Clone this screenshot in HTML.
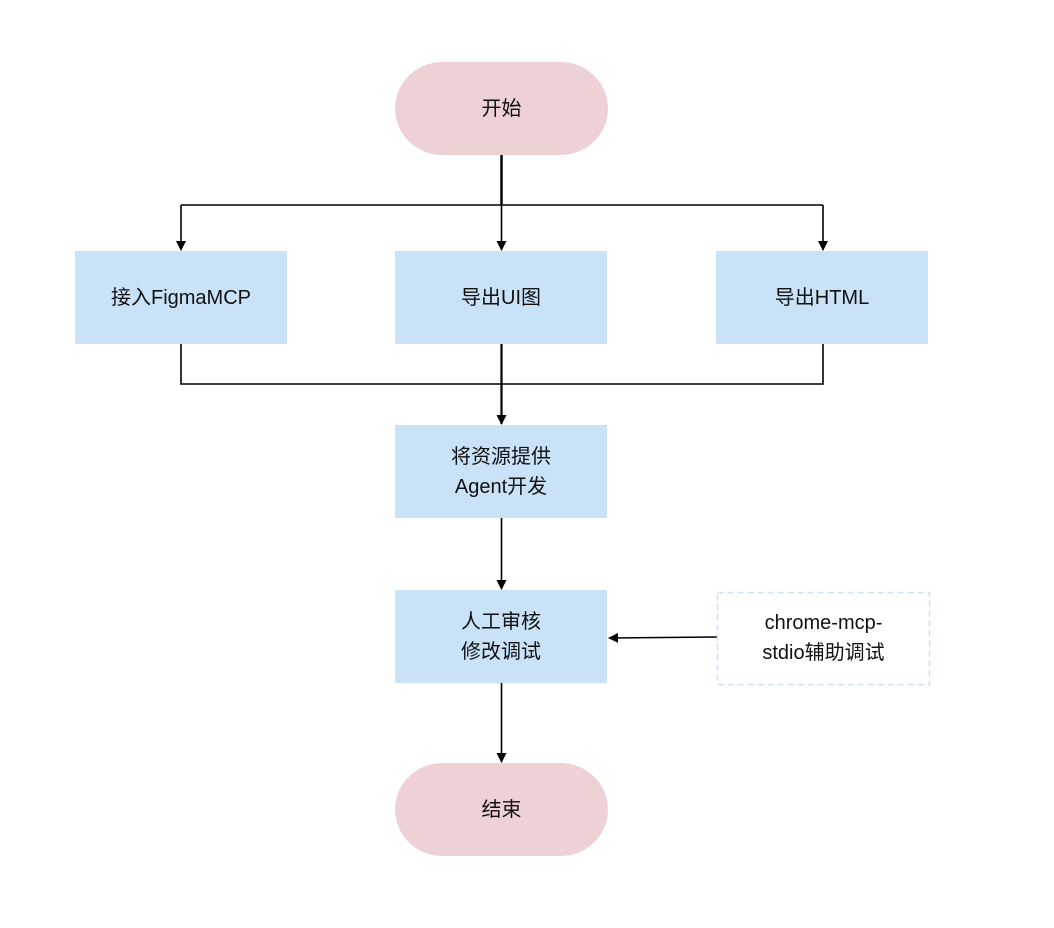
<!DOCTYPE html>
<html><head><meta charset="utf-8"><style>
body{margin:0;width:1054px;height:928px;background:#fff;position:relative;overflow:hidden;font-family:"Liberation Sans","Noto Sans CJK SC",sans-serif;}
.n{position:absolute;display:flex;align-items:center;justify-content:center;text-align:center;font-size:20px;line-height:30px;color:#111;box-sizing:border-box;}
.p{background:#edd1d5;border-radius:48px/47px;}
.b{background:#c9e2f8;}
svg{position:absolute;left:0;top:0;}
</style></head><body>
<svg width="1054" height="928">
<defs><marker id="a" markerWidth="10" markerHeight="10" refX="9" refY="5" orient="auto" markerUnits="userSpaceOnUse"><path d="M0,0 L10,5 L0,10 Z" fill="#000"/></marker></defs>
<g stroke="#000" stroke-width="1.6" fill="none">
<line x1="501.5" y1="155" x2="501.5" y2="205" stroke-width="2.5"/>
<line x1="181" y1="205" x2="823" y2="205"/>
<line x1="181" y1="205" x2="181" y2="250" marker-end="url(#a)"/>
<line x1="501.5" y1="205" x2="501.5" y2="250" marker-end="url(#a)"/>
<line x1="823" y1="205" x2="823" y2="250" marker-end="url(#a)"/>
<polyline points="181,344 181,384 823,384 823,344"/>
<line x1="501.5" y1="344" x2="501.5" y2="424" stroke-width="2.2" marker-end="url(#a)"/>
<line x1="501.5" y1="518" x2="501.5" y2="589" marker-end="url(#a)"/>
<line x1="501.5" y1="683" x2="501.5" y2="762" marker-end="url(#a)"/>
<line x1="717" y1="637" x2="609" y2="638" marker-end="url(#a)"/>
</g>
<rect x="717.5" y="592.5" width="212" height="92" fill="none" stroke="#c9e2f8" stroke-width="1.5" stroke-dasharray="6,4"/>
</svg>
<div class="n p" style="left:395px;top:62px;width:213px;height:93px">开始</div>
<div class="n b" style="left:75px;top:251px;width:212px;height:93px">接入FigmaMCP</div>
<div class="n b" style="left:395px;top:251px;width:212px;height:93px">导出UI图</div>
<div class="n b" style="left:716px;top:251px;width:212px;height:93px">导出HTML</div>
<div class="n b" style="left:395px;top:425px;width:212px;height:93px">将资源提供<br>Agent开发</div>
<div class="n b" style="left:395px;top:590px;width:212px;height:93px">人工审核<br>修改调试</div>
<div class="n" style="left:717px;top:591px;width:213px;height:94px">chrome-mcp-<br>stdio辅助调试</div>
<div class="n p" style="left:395px;top:763px;width:213px;height:93px">结束</div>
</body></html>
